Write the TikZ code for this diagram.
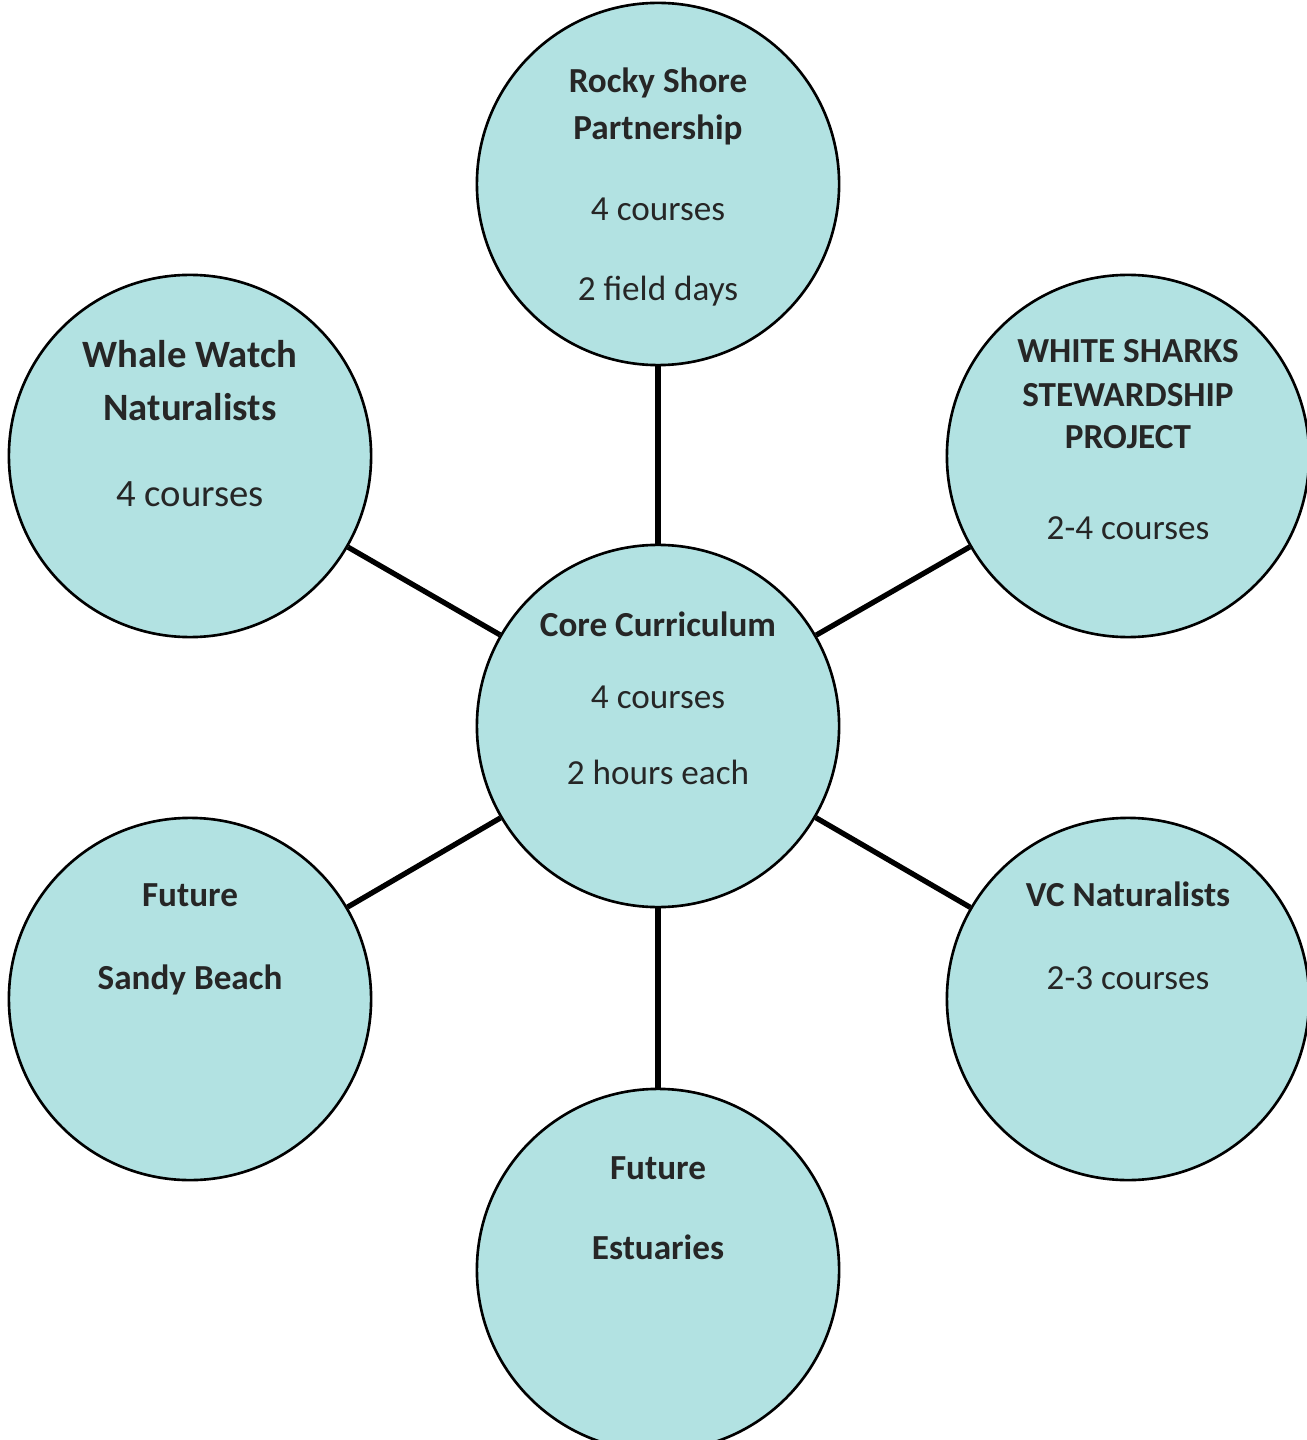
\documentclass[tikz,border=0pt]{standalone}
\usepackage{fontspec}
\setmainfont{Carlito}
\usetikzlibrary{positioning}
\definecolor{bubblefill}{HTML}{B2E2E2}
\tikzset{
  bubble/.style={circle,draw,fill=bubblefill,line width=0.75pt,minimum size=3.62cm,inner sep=0pt},
  spoke/.style={line width=1.5pt},
  txt/.style={anchor=base,text=black!85,font=\fontsize{10}{12}\selectfont},
  head/.style={anchor=base,text=black!85,font=\bfseries\fontsize{10}{12}\selectfont},
  bigtxt/.style={anchor=base,text=black!85,font=\fontsize{11}{13}\selectfont},
  bighead/.style={anchor=base,text=black!85,font=\bfseries\fontsize{11}{13}\selectfont}
}
\begin{document}
\begin{tikzpicture}[x=0.01cm,y=-0.01cm]
\useasboundingbox (0,0) rectangle (1306,1440);

% circles
\node[bubble] (core) at (658,726) {};
\node[bubble] (rocky) at (658,184) {};
\node[bubble] (whale) at (190,456) {};
\node[bubble] (sharks) at (1128,456) {};
\node[bubble] (sandy) at (190,999) {};
\node[bubble] (vcnat) at (1128,999) {};
\node[bubble] (estuar) at (658,1270) {};

% spokes
\foreach \n in {rocky,whale,sharks,sandy,vcnat,estuar}
  \draw[spoke] (core) -- (\n);

% texts
\path (core) ++(0,-90) node[head] (core1) {Core Curriculum}
      (core) ++(0,-18) node[txt] (core2) {4 courses}
      (core) ++(0,58) node[txt] (core3) {2 hours each};
\path (rocky) ++(0,-91) node[head] (rocky1) {Rocky Shore}
      (rocky) ++(0,-44) node[head] (rocky2) {Partnership}
      (rocky) ++(0,37) node[txt] (rocky3) {4 courses}
      (rocky) ++(0,117) node[txt] (rocky4) {2 field days};
\path (whale) ++(0,-88) node[bighead] (whale1) {Whale Watch}
      (whale) ++(0,-35) node[bighead] (whale2) {Naturalists}
      (whale) ++(0,51) node[bigtxt] (whale3) {4 courses};
\path (sharks) ++(0,-93) node[head] (sharks1) {WHITE SHARKS}
      (sharks) ++(0,-49) node[head] (sharks2) {STEWARDSHIP}
      (sharks) ++(0,-7) node[head] (sharks3) {PROJECT}
      (sharks) ++(0,83) node[txt] (sharks4) {2-4 courses};
\path (sandy) ++(0,-93) node[head] (sandy1) {Future}
      (sandy) ++(0,-10) node[head] (sandy2) {Sandy Beach};
\path (vcnat) ++(0,-93) node[head] (vcnat1) {VC Naturalists}
      (vcnat) ++(0,-10) node[txt] (vcnat2) {2-3 courses};
\path (estuar) ++(0,-91) node[head] (estuar1) {Future}
      (estuar) ++(0,-11) node[head] (estuar2) {Estuaries};
\end{tikzpicture}
\end{document}
